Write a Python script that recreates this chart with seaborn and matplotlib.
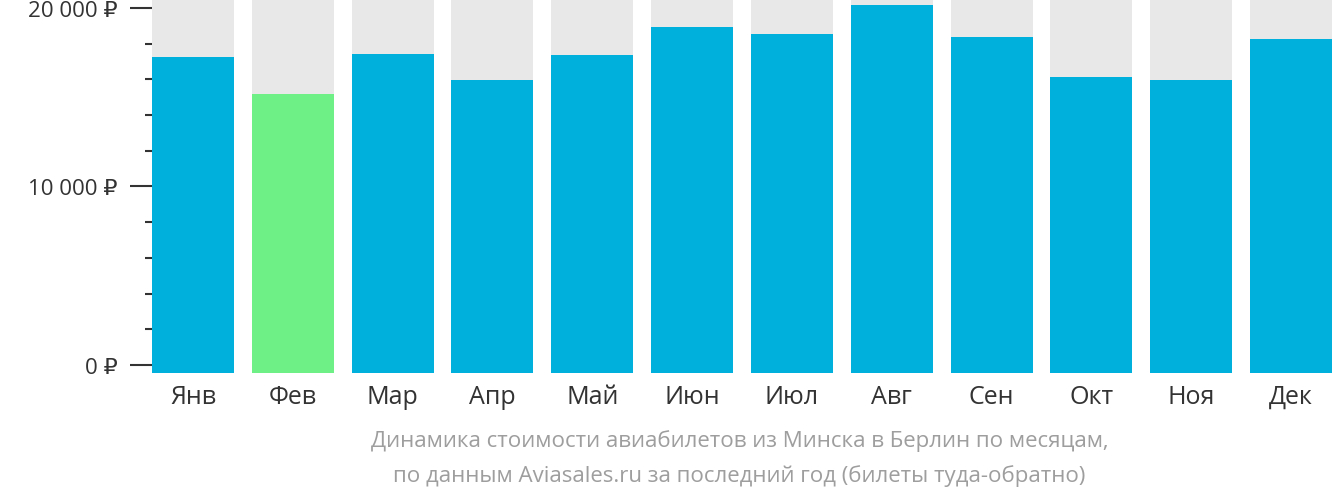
import matplotlib
matplotlib.use("Agg")
import matplotlib.pyplot as plt
import seaborn as sns
import pandas as pd
from matplotlib.ticker import MultipleLocator, FuncFormatter

months = ["Янв","Фев","Мар","Апр","Май","Июн","Июл","Авг","Сен","Окт","Ноя","Дек"]
prices = [17250, 15170, 17420, 15960, 17360, 18930, 18540, 20170, 18370, 16120, 15960, 18260]
highlight = "Фев"
ymax = 20500
ymin = -450

df = pd.DataFrame({"month": months, "price": prices, "bg": [ymax]*len(months)})
colors = ["#6ef087" if m == highlight else "#00b0dc" for m in months]

plt.rcParams["font.family"] = ["Open Sans", "DejaVu Sans"]
fig = plt.figure(figsize=(13.32, 5.02), dpi=100)
ax = fig.add_axes([152/1332, 128/502, 1180/1332, 374/502])
sns.barplot(data=df, x="month", y="bg", color="#e8e8e8", width=0.82, ax=ax, saturation=1)
sns.barplot(data=df, x="month", y="price", hue="month", palette=colors, legend=False,
            width=0.82, ax=ax, saturation=1)
for p in ax.patches:
    h = p.get_height()
    p.set_y(ymin); p.set_height(h - ymin)
ax.set_xlim(-0.41, 11.41)
ax.set_ylim(ymin, ymax)
for s in ax.spines.values():
    s.set_visible(False)
ax.yaxis.set_major_locator(MultipleLocator(10000))
ax.yaxis.set_minor_locator(MultipleLocator(2000))
ax.yaxis.set_major_formatter(FuncFormatter(lambda v, p: f"{int(v):,}".replace(",", " ") + " ₽"))
ax.tick_params(axis="y", which="major", length=16, width=1.5, color="#333333", labelsize=16, labelcolor="#333333", pad=9)
ax.tick_params(axis="y", which="minor", length=5, width=1.5, color="#333333")
ax.tick_params(axis="x", length=0, labelsize=18, labelcolor="#333333", pad=8)
ax.set_xlabel(""); ax.set_ylabel("")
fig.text(0.555, 0.11, "Динамика стоимости авиабилетов из Минска в Берлин по месяцам,", ha="center", fontsize=16, color="#9e9e9e")
fig.text(0.555, 0.04, "по данным Aviasales.ru за последний год (билеты туда-обратно)", ha="center", fontsize=16, color="#9e9e9e")
fig.savefig("out.png", dpi=100)
